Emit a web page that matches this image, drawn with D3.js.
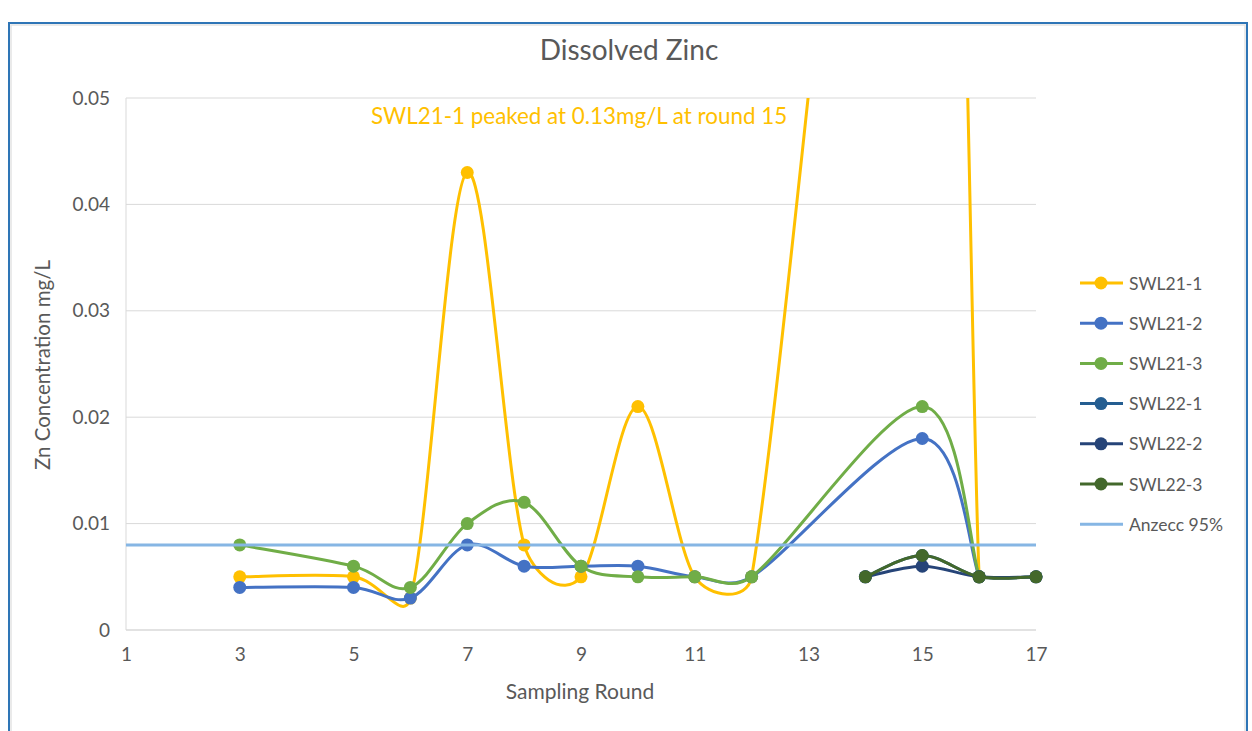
<!DOCTYPE html>
<html><head><meta charset="utf-8">
<script src="https://cdn.jsdelivr.net/npm/d3@7"></script>
<style>html,body{margin:0;padding:0;background:#fff}svg{display:block}</style>
</head><body><svg id="c" width="1252" height="731"></svg>
<script>
const rounds = [3,5,6,7,8,9,10,11,12,14,15,16,17];
const swl21_1 = [0.005,0.005,0.003,0.043,0.008,0.005,0.021,0.005,0.005,null,0.13,0.005,null];
const swl21_2 = [0.004,0.004,0.003,0.008,0.006,0.006,0.006,0.005,0.005,null,0.018,0.005,null];
const swl21_3 = [0.008,0.006,0.004,0.010,0.012,0.006,0.005,0.005,0.005,null,0.021,0.005,null];
const swl22_1 = [null,null,null,null,null,null,null,null,null,0.005,0.007,0.005,0.005];
const swl22_2 = [null,null,null,null,null,null,null,null,null,0.005,0.006,0.005,0.005];
const swl22_3 = [null,null,null,null,null,null,null,null,null,0.005,0.007,0.005,0.005];
const anzecc = 0.008;
const seriesNames = ["SWL21-1","SWL21-2","SWL21-3","SWL22-1","SWL22-2","SWL22-3"];
const seriesColors = ["#FFC000","#4472C4","#70AD47","#255E91","#264478","#43682B"];
const seriesValues = [swl21_1,swl21_2,swl21_3,swl22_1,swl22_2,swl22_3];
const xTicks = [1,3,5,7,9,11,13,15,17];
const yTicks = [0,0.01,0.02,0.03,0.04,0.05];
const anzeccName = "Anzecc 95%";
const anzeccColor = "#86B6E4";

// Excel-like smoothing curve (cardinal with control vectors limited by segment length)
function excelSmooth(context){
  let pts = [];
  return {
    areaStart(){}, areaEnd(){},
    lineStart(){ pts = []; },
    point(px,py){ pts.push([+px,+py]); },
    lineEnd(){
      const n = pts.length, c = context;
      if(!n) return;
      c.moveTo(pts[0][0],pts[0][1]);
      if(n===2){ c.lineTo(pts[1][0],pts[1][1]); return; }
      const K = 0.45;
      for(let i=0;i<n-1;i++){
        const p0=pts[Math.max(i-1,0)], p1=pts[i], p2=pts[i+1], p3=pts[Math.min(i+2,n-1)];
        const d12 = Math.hypot(p2[0]-p1[0],p2[1]-p1[1]);
        const cap = v=>{const l=Math.hypot(v[0],v[1]), m=K*d12; return l>m?[v[0]*m/l,v[1]*m/l]:v;};
        const a = cap([(p2[0]-p0[0])/6,(p2[1]-p0[1])/6]);
        const b = cap([(p3[0]-p1[0])/6,(p3[1]-p1[1])/6]);
        c.bezierCurveTo(p1[0]+a[0],p1[1]+a[1],p2[0]-b[0],p2[1]-b[1],p2[0],p2[1]);
      }
    }
  };
}

const svg = d3.select("#c");
const font = "Lato, 'Open Sans', sans-serif";
const grey = "#595959";

svg.append("rect").attr("x",9).attr("y",23).attr("width",1238).attr("height",720)
  .attr("fill","#fff").attr("stroke","#2E75B6").attr("stroke-width",2);
svg.append("rect").attr("x",11).attr("y",25).attr("width",1234).attr("height",716)
  .attr("fill","none").attr("stroke","#e4e4e4").attr("stroke-width",1.5);

const x = d3.scaleLinear().domain([1,17]).range([126,1036]);
const y = d3.scaleLinear().domain([0,0.05]).range([630,98]);

svg.append("g").selectAll("line").data(yTicks.filter(d=>d>0)).join("line")
  .attr("x1",x(1)).attr("x2",x(17)).attr("y1",d=>y(d)).attr("y2",d=>y(d))
  .attr("stroke","#D9D9D9").attr("stroke-width",1);
svg.append("line").attr("x1",x(1)).attr("x2",x(1)).attr("y1",y(0.05)).attr("y2",y(0))
  .attr("stroke","#D9D9D9");
svg.append("line").attr("x1",x(1)).attr("x2",x(17)).attr("y1",y(0)).attr("y2",y(0))
  .attr("stroke","#D9D9D9").attr("stroke-width",1.5);

const yAxis = d3.axisLeft(y).tickValues(yTicks).tickFormat(d=>d===0?"0":d3.format(".2f")(d)).tickSize(0).tickPadding(16);
const gy = svg.append("g").attr("transform",`translate(${x(1)},0)`).call(yAxis);
gy.select(".domain").remove();
gy.selectAll("text").attr("font-family",font).attr("font-size",19).attr("fill",grey);

const xAxis = d3.axisBottom(x).tickValues(xTicks).tickFormat(d3.format("d")).tickSize(0).tickPadding(18);
const gx = svg.append("g").attr("transform",`translate(0,${y(0)})`).call(xAxis);
gx.select(".domain").remove();
gx.selectAll("text").attr("font-family",font).attr("font-size",19).attr("fill",grey);

svg.append("text").attr("x",629).attr("y",60).attr("text-anchor","middle")
  .attr("font-family",font).attr("font-size",28).attr("fill",grey).text("Dissolved Zinc");
svg.append("text").attr("x",580).attr("y",699).attr("text-anchor","middle")
  .attr("font-family",font).attr("font-size",21).attr("fill",grey).text("Sampling Round");
svg.append("text").attr("transform","translate(42,365) rotate(-90)").attr("text-anchor","middle")
  .attr("dominant-baseline","central")
  .attr("font-family",font).attr("font-size",20.5).attr("fill",grey).text("Zn Concentration mg/L");

svg.append("clipPath").attr("id","clip").append("rect")
  .attr("x",0).attr("y",y(0.05)).attr("width",1252).attr("height",600);

const line = d3.line().x(d=>x(d[0])).y(d=>y(d[1])).curve(excelSmooth);
const plot = svg.append("g");
seriesValues.forEach((vals,i)=>{
  const pts = rounds.map((r,j)=>[r,vals[j]]).filter(d=>d[1]!=null);
  plot.append("path").attr("d",line(pts)).attr("fill","none")
    .attr("stroke",seriesColors[i]).attr("stroke-width",3).attr("clip-path","url(#clip)");
  plot.append("g").selectAll("circle").data(pts.filter(d=>d[1]<=0.05)).join("circle")
    .attr("cx",d=>x(d[0])).attr("cy",d=>y(d[1])).attr("r",6.5).attr("fill",seriesColors[i]);
});
plot.append("line").attr("x1",x(1)).attr("x2",x(17)).attr("y1",y(anzecc)).attr("y2",y(anzecc))
  .attr("stroke",anzeccColor).attr("stroke-width",3);

svg.append("text").attr("x",371).attr("y",124).attr("font-family",font).attr("font-size",22.4)
  .attr("fill","#FFC000").text("SWL21-1 peaked at 0.13mg/L at round 15");

const legNames = seriesNames.concat([anzeccName]);
const legColors = seriesColors.concat([anzeccColor]);
const leg = svg.append("g");
legNames.forEach((n,i)=>{
  const ly = 283 + i*40.2;
  leg.append("line").attr("x1",1080).attr("x2",1123).attr("y1",ly).attr("y2",ly)
    .attr("stroke",legColors[i]).attr("stroke-width",3);
  if(i<6) leg.append("circle").attr("cx",1101).attr("cy",ly).attr("r",6.5).attr("fill",legColors[i]);
  leg.append("text").attr("x",1129).attr("y",ly).attr("dominant-baseline","central")
    .attr("font-family",font).attr("font-size",17.5).attr("fill",grey).text(n);
});
</script></body></html>
